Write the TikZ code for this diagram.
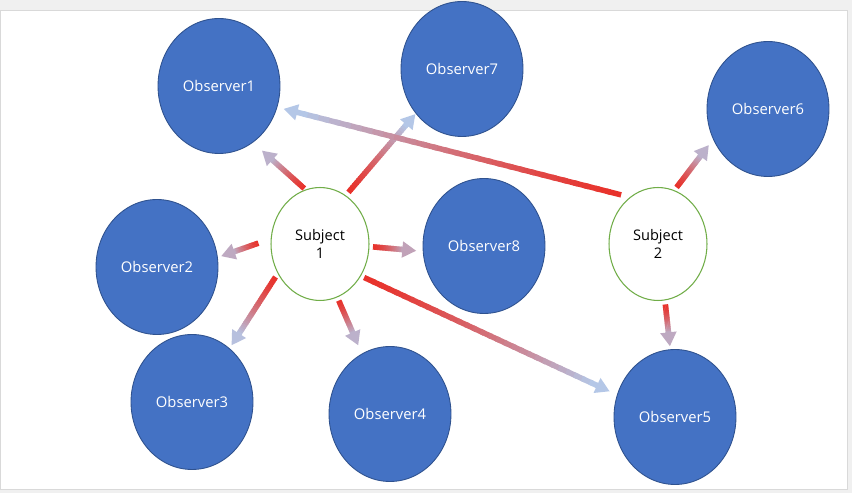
\documentclass[tikz,border=0pt]{standalone}
\usepackage{fontspec}
\setmainfont{Open Sans}
\usetikzlibrary{calc,arrows.meta,shapes.geometric}
\definecolor{obsblue}{HTML}{4472C4}
\definecolor{obsline}{HTML}{2F528F}
\definecolor{subline}{HTML}{70AD47}
\definecolor{lnred}{HTML}{E8322B}
\definecolor{lnblue}{HTML}{B4C7E7}
\definecolor{framegray}{HTML}{F0F0F0}
\definecolor{frameline}{HTML}{D9D9D9}

% #1 how blue the tip ends, #2 and #3 the two anchors, #4 and #5 the gaps
\newcommand{\gradlink}[5][100]{%
  \coordinate (ga) at ($(#2)!#4!(#3)$);
  \coordinate (gb) at ($(#3)!#5!(#2)$);
  \coordinate (ge) at ($(gb)!0.27cm!(ga)$);
  \foreach \k in {0,...,29} {
    \pgfmathsetmacro{\ta}{\k/30}
    \pgfmathsetmacro{\tb}{min(1,(\k+1.4)/30)}
    \pgfmathtruncatemacro{\p}{100-#1*(\k/29)^1.4}
    \draw[linkpart, lnred!\p!lnblue] ($(ga)!\ta!(ge)$) -- ($(ga)!\tb!(ge)$);
  }
  \pgfmathtruncatemacro{\q}{100-#1}
  \draw[linktip, lnred!\q!lnblue] ($(gb)!0.3cm!(ga)$) -- (gb);
}

\begin{document}
\begin{tikzpicture}[x=0.02cm, y=0.02cm,
    obs/.style={ellipse, draw=obsline, fill=obsblue, line width=0.5pt, inner sep=0pt,
      minimum width=2.44cm, minimum height=2.7cm, text=white, font=\fontsize{8.4}{10.2}\selectfont},
    subj/.style={ellipse, draw=subline, fill=white, line width=0.6pt, inner sep=0pt, align=center,
      minimum width=1.96cm, minimum height=2.26cm, font=\fontsize{8.3}{10.2}\selectfont},
    linkpart/.style={line width=0.11cm, line cap=butt},
    linktip/.style={line width=0.11cm, -{Triangle[length=0.28cm, width=0.31cm]}}]
  \useasboundingbox[fill=framegray] (0,0) rectangle (852,493);
  \draw[fill=white, draw=frameline] (0,4) rectangle (847,483);

  \node[obs] (o1) at (219,407) {Observer1};
  \node[obs] (o7) at (462,424) {Observer7};
  \node[obs] (o6) at (768,384) {Observer6};
  \node[obs] (o2) at (157,226) {Observer2};
  \node[obs] (o8) at (484,247) {Observer8};
  \node[obs] (o3) at (192,91) {Observer3};
  \node[obs] (o4) at (390,79) {Observer4};
  \node[obs] (o5) at (675,76) {Observer5};
  \node[subj] (s1) at (320,249) {Subject\\1};
  \node[subj] (s2) at (658,249) {Subject\\2};

  \gradlink[85]{s1.105}{o1.301}{0.03cm}{0.24cm}
  \gradlink{s1.62}{o7.224}{0.08cm}{0.01cm}
  \gradlink[80]{s1.174}{o2.9}{0.26cm}{0.07cm}
  \gradlink[75]{s1.357}{o8.185}{0.07cm}{0.13cm}
  \gradlink[95]{s1.215}{o3.55}{0.08cm}{0.07cm}
  \gradlink[85]{s1.288}{o4.115}{0.07cm}{0.18cm}
  \gradlink{s1.322}{o5.159}{0.07cm}{0.16cm}
  \gradlink{s2.121}{o1.340}{0.18cm}{0.13cm}
  \gradlink[85]{s2.73}{o6.209}{0.07cm}{0.14cm}
  \gradlink[80]{s2.277}{o5.94}{0.08cm}{0.06cm}
\end{tikzpicture}
\end{document}
